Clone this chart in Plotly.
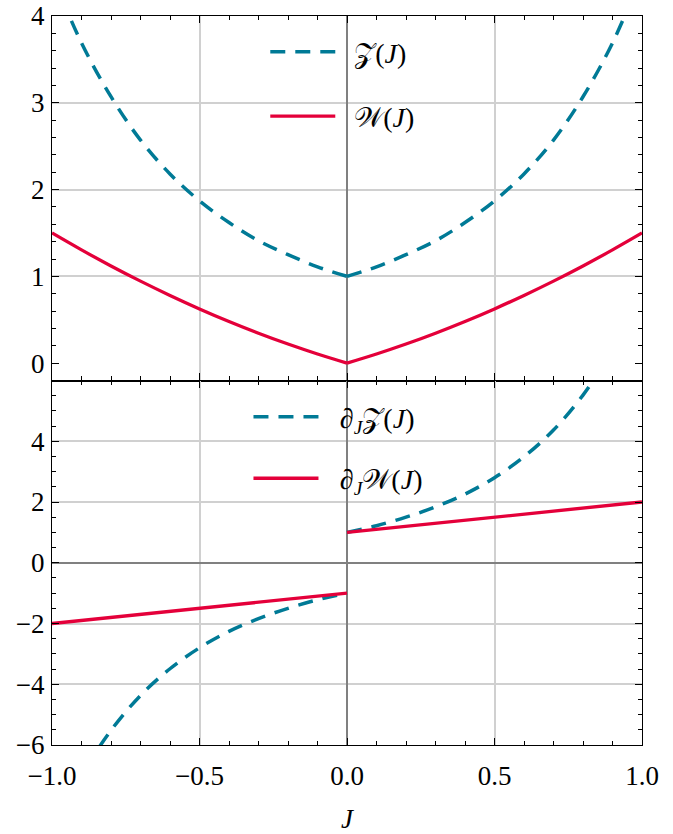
import plotly.graph_objects as go
from plotly.subplots import make_subplots

# ---- data ----
J_neg = [-1.0, -0.9, -0.8, -0.7, -0.6, -0.5, -0.4, -0.3, -0.2, -0.1, 0.0]
J_pos = [0.0, 0.1, 0.2, 0.3, 0.4, 0.5, 0.6, 0.7, 0.8, 0.9, 1.0]

Z_neg = [4.48, 3.69, 3.07, 2.57, 2.18, 1.87, 1.62, 1.41, 1.25, 1.11, 1.00]
Z_pos = [1.00, 1.11, 1.25, 1.41, 1.62, 1.87, 2.18, 2.57, 3.07, 3.69, 4.48]
W_neg = [1.50, 1.305, 1.12, 0.945, 0.78, 0.625, 0.48, 0.345, 0.22, 0.105, 0.0]
W_pos = [0.0, 0.105, 0.22, 0.345, 0.48, 0.625, 0.78, 0.945, 1.12, 1.305, 1.50]

dZ_neg = [-8.96, -7.01, -5.52, -4.37, -3.49, -2.80, -2.26, -1.84, -1.50, -1.22, -1.00]
dZ_pos = [1.00, 1.22, 1.50, 1.84, 2.26, 2.80, 3.49, 4.37, 5.52, 7.01, 8.96]
dW_neg = [-2.0, -1.9, -1.8, -1.7, -1.6, -1.5, -1.4, -1.3, -1.2, -1.1, -1.0]
dW_pos = [1.0, 1.1, 1.2, 1.3, 1.4, 1.5, 1.6, 1.7, 1.8, 1.9, 2.0]

x_ticks = [-1.0, -0.5, 0.0, 0.5, 1.0]
y_top_ticks = [0, 1, 2, 3, 4]
y_bot_ticks = [-6, -4, -2, 0, 2, 4]

labels_top = ["\u2002𝒵(<i>J</i>)", "\u2002𝒲(<i>J</i>)"]
labels_bot = ["\u2002\u200a∂<sub><i>J</i></sub>𝒵(<i>J</i>)", "\u2002\u200a∂<sub><i>J</i></sub>𝒲(<i>J</i>)"]

TEAL = "#007a96"
RED = "#e4003a"
FONT = "Liberation Serif"

fig = make_subplots(rows=2, cols=1, shared_xaxes=True, vertical_spacing=0)

def join(a, b):
    return list(a) + [None] + list(b)

Jx = join(J_neg, J_pos)
DASH = "15px,10px"

fig.add_trace(go.Scatter(x=Jx, y=join(Z_neg, Z_pos), mode="lines", name=labels_top[0],
                         line=dict(color=TEAL, width=3.5, dash=DASH, shape="spline"),
                         legend="legend", legendgroup="a"), row=1, col=1)
fig.add_trace(go.Scatter(x=Jx, y=join(W_neg, W_pos), mode="lines", name=labels_top[1],
                         line=dict(color=RED, width=3.3, shape="spline"),
                         legend="legend", legendgroup="b"), row=1, col=1)
fig.add_trace(go.Scatter(x=Jx, y=join(dZ_neg, dZ_pos), mode="lines", name=labels_bot[0],
                         line=dict(color=TEAL, width=3.5, dash=DASH, shape="spline"),
                         legend="legend2", legendgroup="c"), row=2, col=1)
fig.add_trace(go.Scatter(x=Jx, y=join(dW_neg, dW_pos), mode="lines", name=labels_bot[1],
                         line=dict(color=RED, width=3.3),
                         legend="legend2", legendgroup="d"), row=2, col=1)

GRID = "#d0d0d0"
ZERO = "#808080"

common_x = dict(range=[-1, 1], tickvals=x_ticks, ticks="inside", ticklen=7, tickwidth=1.2,
                tickcolor="black", showline=True, linecolor="black", linewidth=1.2,
                mirror="allticks", showgrid=True, gridcolor=GRID, gridwidth=1.5,
                zeroline=True, zerolinecolor=ZERO, zerolinewidth=1.5, automargin=False,
                ticklabelstandoff=6,
                minor=dict(dtick=0.1, tick0=0, ticks="inside", ticklen=4, tickcolor="black",
                           tickwidth=1.1, showgrid=False))
fig.update_xaxes(**common_x)
fig.update_xaxes(showticklabels=False, row=1, col=1)
fig.update_xaxes(tickformat=".1f", row=2, col=1,
                 title=dict(text="<i>J</i>", standoff=24, font=dict(size=27)))

common_y = dict(ticks="inside", ticklen=7, tickwidth=1.2, tickcolor="black", showline=True,
                linecolor="black", linewidth=1.2, mirror="allticks", showgrid=True,
                gridcolor=GRID, gridwidth=1.5, ticklabelstandoff=1, automargin=False)
fig.update_yaxes(**common_y)
fig.update_yaxes(range=[-0.2, 4], tickvals=y_top_ticks, zeroline=True,
                 zerolinecolor="rgba(0,0,0,0)",
                 minor=dict(dtick=0.2, tick0=0, ticks="inside", ticklen=4, tickcolor="black",
                            tickwidth=1.1, showgrid=False), row=1, col=1)
fig.update_yaxes(range=[-6, 6], tickvals=y_bot_ticks, zeroline=True, zerolinecolor=ZERO,
                 zerolinewidth=1.5,
                 minor=dict(dtick=0.5, tick0=0, ticks="inside", ticklen=4, tickcolor="black",
                            tickwidth=1.1, showgrid=False), row=2, col=1)

fig.update_layout(
    width=673, height=834,
    margin=dict(l=52, r=31, t=15.5, b=89),
    paper_bgcolor="white", plot_bgcolor="white",
    font=dict(family=FONT, size=27, color="black"),
    legend=dict(x=0.3615, y=0.985, xanchor="left", yanchor="top", bgcolor="rgba(0,0,0,0)",
                traceorder="grouped", tracegroupgap=25, itemwidth=65, font=dict(size=28)),
    legend2=dict(x=0.333, y=0.484, xanchor="left", yanchor="top", bgcolor="rgba(0,0,0,0)",
                 traceorder="grouped", tracegroupgap=22, itemwidth=65, font=dict(size=28)),
)

fig.write_html("out.html", config={"displayModeBar": False},
               post_script="document.body.style.margin='0';")
